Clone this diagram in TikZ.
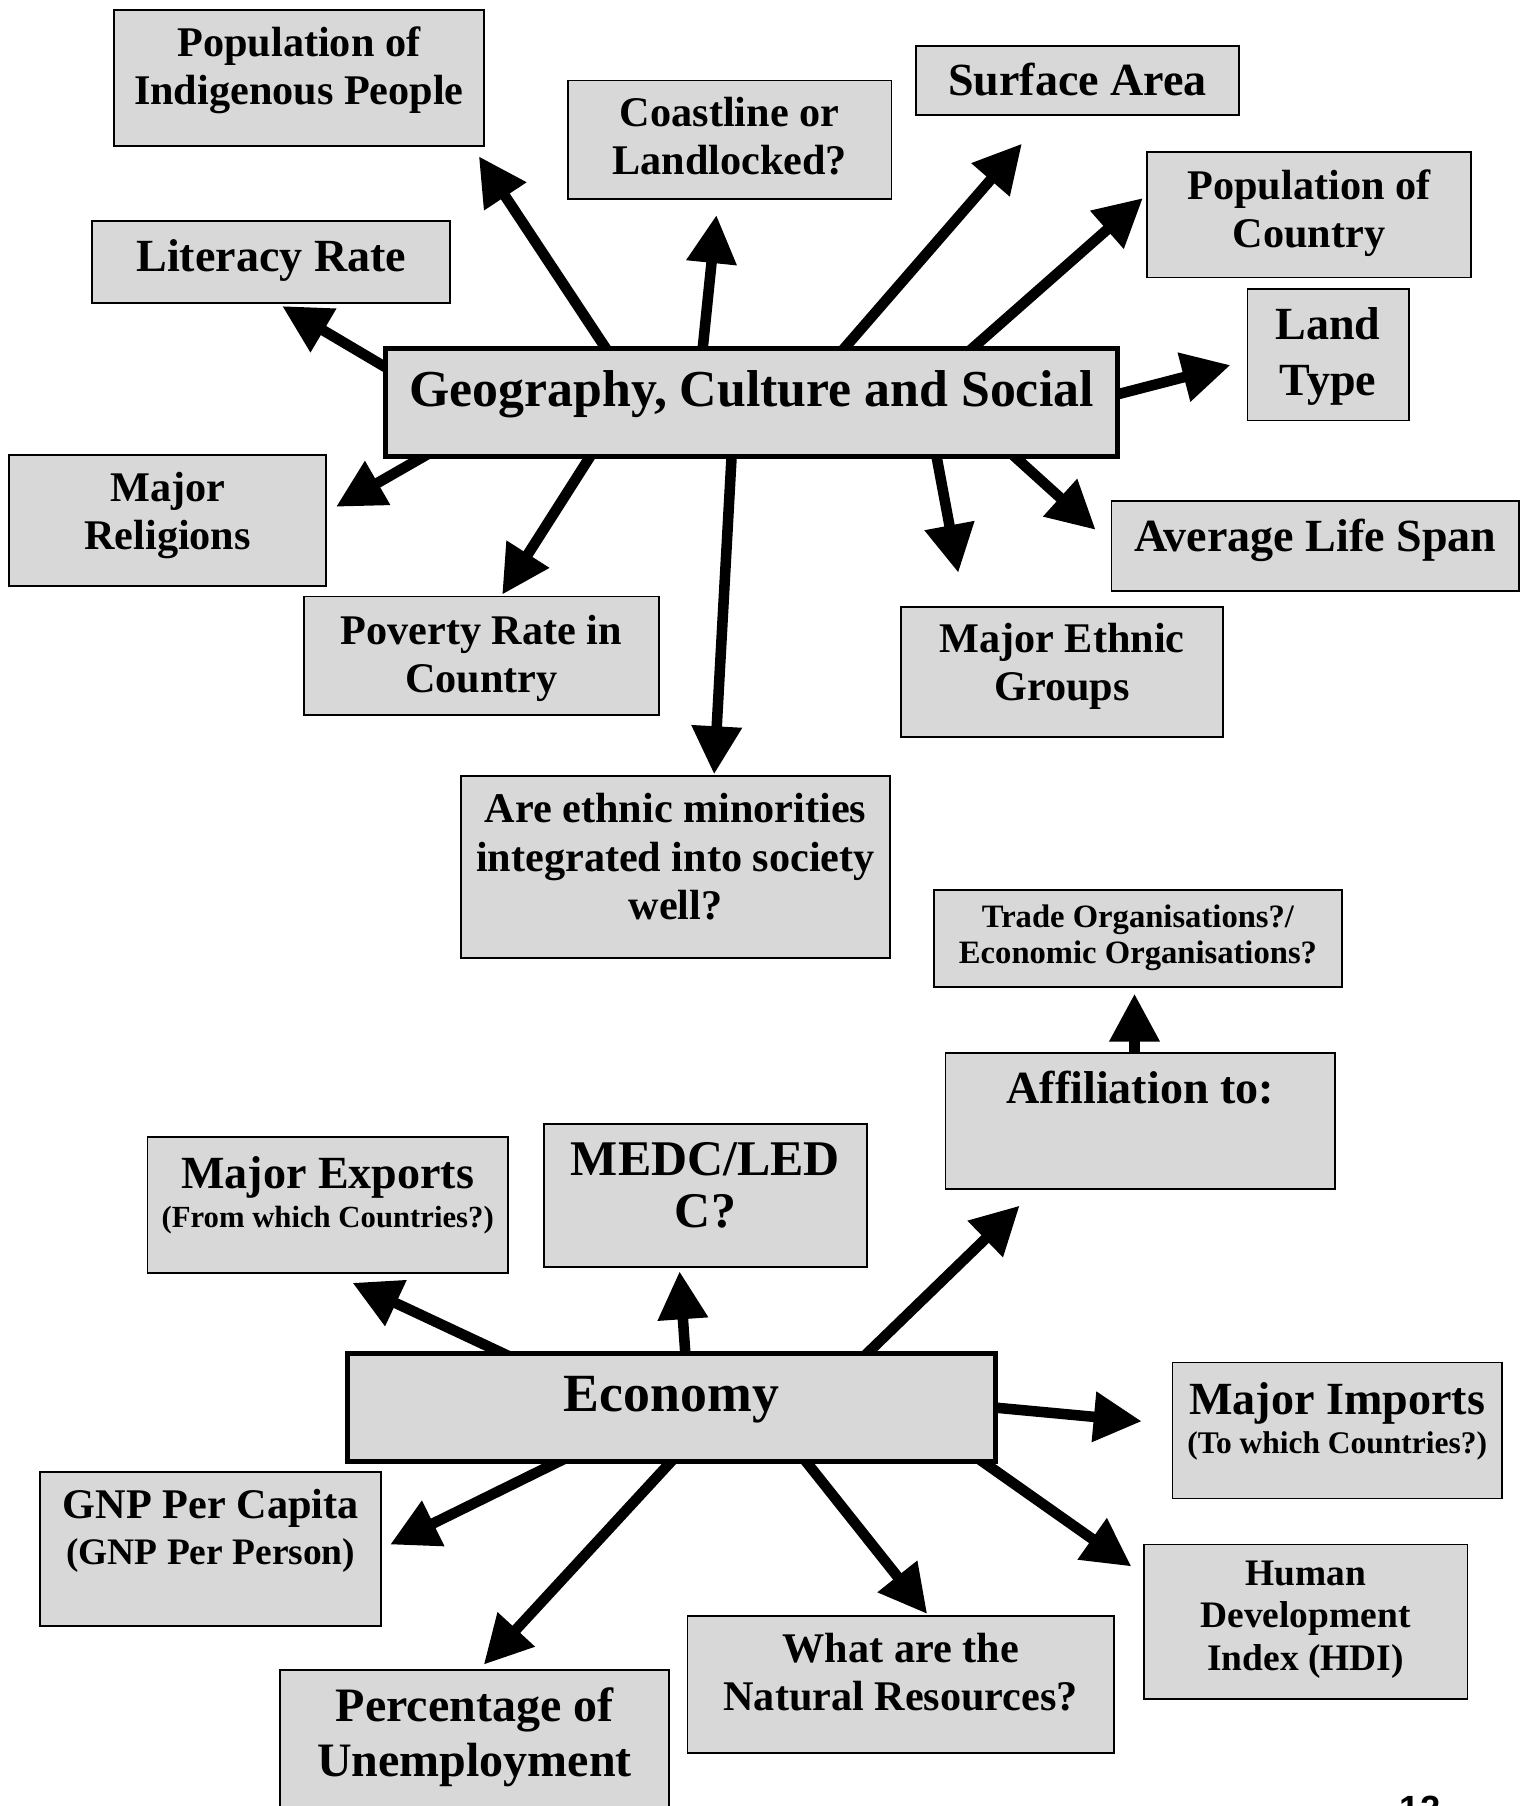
\documentclass[tikz,border=0pt]{standalone}
\usepackage{fontspec}
\setmainfont{Liberation Serif}
\newfontfamily\pagefont{Liberation Sans}
\usetikzlibrary{arrows.meta,backgrounds}
\definecolor{boxgray}{RGB}{216,216,216}
\newlength{\pxl}
\setlength{\pxl}{0.6pt}
\newcommand{\boxtext}[4]{\parbox[t][#2\pxl][t]{#1\pxl}{\centering\vspace*{#3\pxl}#4\par}}
\tikzset{
  box/.style={draw,fill=boxgray,line width=0.9pt,inner sep=0pt},
  hub/.style={box,line width=2.6pt},
  fs/.style 2 args={font={\bfseries\fontsize{#1}{#2}\selectfont}},
  arr/.style={-{Triangle[length=25pt,width=25pt]},line width=5.5pt}
}
\begin{document}
\begin{tikzpicture}[x=0.6pt,y=-0.6pt]
    \useasboundingbox (0,0) rectangle (1330,1568);
    % geography, culture and social
    \node[box,fs={22pt}{25.2pt}] (indig) at (259.5,68) {\boxtext{321}{118}{14}{Population of\\Indigenous People}};
    \node[box,fs={22pt}{25.2pt}] (coast) at (633.5,121.5) {\boxtext{281}{103}{14}{Coastline or\\Landlocked?}};
    \node[box,fs={24pt}{29pt}] (surf) at (935.5,70) {\boxtext{281}{60}{15}{Surface Area}};
    \node[box,fs={22pt}{25.2pt}] (popc) at (1136.5,186.5) {\boxtext{281}{109}{15}{Population of\\Country}};
    \node[box,fs={24pt}{29pt}] (lit) at (235.5,227.5) {\boxtext{311}{71}{16}{Literacy Rate}};
    \node[box,fs={24pt}{29pt}] (land) at (1153,308) {\boxtext{140}{114}{16}{Land\\Type}};
    \node[hub,fs={27pt}{32pt}] (geo) at (652.5,349.5) {\boxtext{635}{93}{19}{Geography, Culture and Social}};
    \node[box,fs={22pt}{25.2pt}] (relig) at (145.5,452) {\boxtext{275}{114}{15}{Major\\Religions}};
    \node[box,fs={24pt}{29pt}] (life) at (1142,474) {\boxtext{354}{78}{16}{Average Life Span}};
    \node[box,fs={22pt}{25.2pt}] (pov) at (418,569.5) {\boxtext{308}{103}{16}{Poverty Rate in\\Country}};
    \node[box,fs={22pt}{25.2pt}] (ethn) at (922,583.5) {\boxtext{280}{113}{14}{Major Ethnic\\Groups}};
    \node[box,fs={22pt}{25.2pt}] (minor) at (586.5,753) {\boxtext{373}{158}{15}{Are ethnic minorities\\integrated into society\\well?}};
    % economy
    \node[box,fs={17pt}{18.6pt}] (trade) at (988,815) {\boxtext{354}{84}{13}{Trade Organisations?/\\Economic Organisations?}};
    \node[box,fs={24pt}{29pt}] (affil) at (990,973) {\boxtext{338}{118}{16}{Affiliation to:}};
    \node[box,fs={24pt}{29pt}] (exp) at (284.5,1046) {\boxtext{313}{118}{17}{Major Exports\par\fontsize{16pt}{20.4pt}\selectfont (From which Countries?)}};
    \node[box,fs={26pt}{27pt}] (medc) at (612.5,1038) {\boxtext{281}{124}{16}{MEDC/LED\\C?}};
    \node[hub,fs={28pt}{32pt}] (econ) at (583,1222) {\boxtext{562}{94}{20}{Economy}};
    \node[box,fs={24pt}{29pt}] (imp) at (1161,1242) {\boxtext{286}{118}{17}{Major Imports\par\fontsize{16.4pt}{20.4pt}\selectfont (To which Countries?)}};
    \node[box,fs={22pt}{25.2pt}] (gnp) at (183,1345) {\boxtext{296}{134}{15}{GNP Per Capita\par\fontsize{19.5pt}{24pt}\selectfont (GNP Per Person)}};
    \node[box,fs={19.5pt}{22.2pt}] (hdi) at (1133.5,1408) {\boxtext{281}{134}{14}{Human\\Development\\Index (HDI)}};
    \node[box,fs={22pt}{25.2pt}] (natr) at (782,1462.5) {\boxtext{370}{119}{15}{What are the\\Natural Resources?}};
    \node[box,fs={25pt}{28.8pt}] (unemp) at (412,1525) {\boxtext{338}{150}{15}{Percentage of\\Unemployment}};
    \node[font={\pagefont\bfseries\fontsize{19pt}{19pt}\selectfont},anchor=north,inner sep=0pt] (pagenum) at (1233,1559) {12};
    \begin{scope}[on background layer]
        \draw[arr] ([shift={(200,12)}]geo.north west) -- ([shift={(-5,8)}]indig.south east);
        \draw[arr] ([shift={(276,14)}]geo.north west) -- ([shift={(-11.5,13)}]coast.south);
        \draw[arr] ([shift={(392,11)}]geo.north west) -- ([shift={(93,24)}]surf.south west);
        \draw[arr] ([shift={(503,9)}]geo.north west) -- ([shift={(-3,-14.5)}]popc.west);
        \draw[arr] ([shift={(-14,-4)}]geo.east) -- ([shift={(-14,9)}]land.west);
        \draw[arr] ([shift={(12,24)}]geo.north west) -- ([shift={(9.5,2)}]lit.south);
        \draw[arr] ([shift={(44,-7)}]geo.south west) -- ([shift={(8,-12)}]relig.east);
        \draw[arr] ([shift={(186,-12)}]geo.south west) -- ([shift={(18,-1)}]pov.north);
        \draw[arr] ([shift={(303,-14)}]geo.south west) -- ([shift={(33.5,-1)}]minor.north);
        \draw[arr] ([shift={(478,-14)}]geo.south west) -- ([shift={(-90,-29)}]ethn.north);
        \draw[arr] ([shift={(539,-10)}]geo.south west) -- ([shift={(-13,-14)}]life.west);
        \draw[arr] ([shift={(-5,14)}]affil.north) -- ([shift={(-3,5)}]trade.south);
        \draw[arr] ([shift={(145,6)}]econ.north west) -- ([shift={(21.5,8)}]exp.south);
        \draw[arr] ([shift={(296,14)}]econ.north west) -- ([shift={(-22.5,3)}]medc.south);
        \draw[arr] ([shift={(445,10)}]econ.north west) -- ([shift={(65,14)}]affil.south west);
        \draw[arr] ([shift={(-14,-1)}]econ.east) -- ([shift={(-26,-8)}]imp.west);
        \draw[arr] ([shift={(193,-6)}]econ.south west) -- ([shift={(7,-4)}]gnp.east);
        \draw[arr] ([shift={(290,-10)}]econ.south west) -- ([shift={(8,-4)}]unemp.north);
        \draw[arr] ([shift={(393,-11)}]econ.south west) -- ([shift={(23,-1)}]natr.north);
        \draw[arr] ([shift={(545,-8)}]econ.south west) -- ([shift={(-10,-48)}]hdi.west);
    \end{scope}
\end{tikzpicture}
\end{document}
